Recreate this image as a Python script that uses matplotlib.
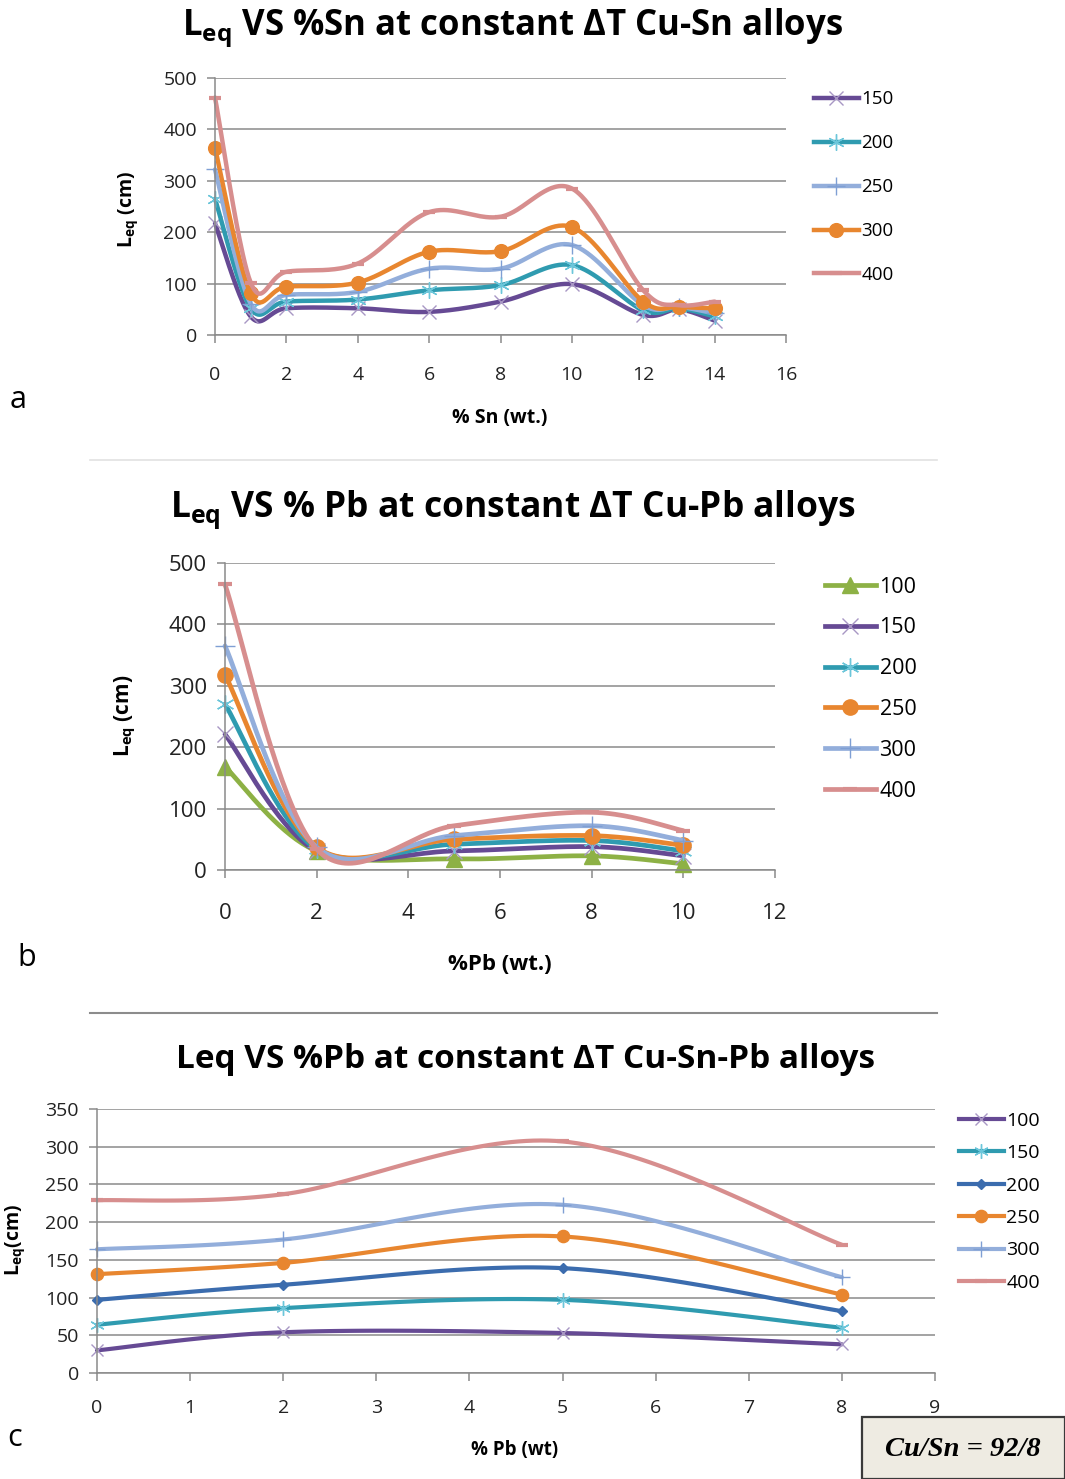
import numpy as np
import matplotlib
matplotlib.use("Agg")
import matplotlib.pyplot as plt
from matplotlib.lines import Line2D
from matplotlib.patches import Rectangle

plt.rcParams['font.family'] = ['Open Sans', 'DejaVu Sans']
plt.rcParams['mathtext.fontset'] = 'custom'
plt.rcParams['mathtext.bf'] = 'Open Sans:bold'
plt.rcParams['mathtext.rm'] = 'Open Sans'

# ---- panel a: Cu-Sn ----
sn_x = [0, 1, 2, 4, 6, 8, 10, 12, 13, 14]
sn_labels = ['150', '200', '250', '300', '400']
sn_150 = [217, 36, 52, 52, 45, 65, 99, 39, 50, 28]
sn_200 = [265, 52, 65, 69, 87, 97, 136, 48, 52, 36]
sn_250 = [322, 61, 78, 84, 129, 129, 175, 58, 55, 42]
sn_300 = [364, 81, 94, 102, 162, 163, 210, 65, 55, 52]
sn_400 = [462, 102, 123, 139, 239, 230, 285, 87, 58, 65]

# ---- panel b: Cu-Pb ----
pb_x = [0, 2, 5, 8, 10]
pb_labels = ['100', '150', '200', '250', '300', '400']
pb_100 = [168, 31, 18, 23, 10]
pb_150 = [221, 31, 31, 38, 23]
pb_200 = [270, 34, 42, 48, 31]
pb_250 = [318, 37, 50, 56, 40]
pb_300 = [365, 37, 56, 72, 48]
pb_400 = [465, 34, 72, 94, 64]

# ---- panel c: Cu-Sn-Pb ----
snpb_x = [0, 2, 5, 8]
snpb_labels = ['100', '150', '200', '250', '300', '400']
snpb_100 = [30, 54, 53, 38]
snpb_150 = [64, 86, 97, 60]
snpb_200 = [97, 117, 139, 82]
snpb_250 = [131, 146, 181, 104]
snpb_300 = [164, 177, 223, 127]
snpb_400 = [229, 237, 307, 170]

# colours / markers per temperature
sty = {
    '100g': dict(color='#8db145', marker='^', mc='#8db145', ms=12, mew=1),
    'purple': dict(color='#664a94', marker='x', mc='#a897c4', ms=11, mew=1),
    'teal': dict(color='#2f9bb0', marker=(6, 2, 0), mc='#6cc6da', ms=13, mew=1),
    'lblue': dict(color='#93aedb', marker='+', mc='#7f9fd4', ms=14, mew=1),
    'orange': dict(color='#e8862f', marker='o', mc='#e8862f', ms=11, mew=1),
    'pink': dict(color='#d78e8e', marker='_', mc='#d78e8e', ms=10, mew=3),
    'blue': dict(color='#3b6cae', marker='D', mc='#3b6cae', ms=7, mew=1),
}


def smooth(x, y, n=40):
    # excel style bezier smoothing
    pts = np.column_stack([x, y]).astype(float)
    m = len(pts)
    out = [pts[0]]
    t = np.linspace(0, 1, n)[1:, None]
    for i in range(m - 1):
        p0 = pts[max(i - 1, 0)]
        p1 = pts[i]
        p2 = pts[i + 1]
        p3 = pts[min(i + 2, m - 1)]
        c1 = p1 + (p2 - p0) / 6
        c2 = p2 - (p3 - p1) / 6
        seg = (1 - t)**3 * p1 + 3 * (1 - t)**2 * t * c1 + 3 * (1 - t) * t**2 * c2 + t**3 * p2
        out.extend(seg)
    return np.array(out)


W, H = 1065, 1479
fig = plt.figure(figsize=(W / 100, H / 100), dpi=100)


def px_axes(l, r, top, bottom):
    return fig.add_axes([l / W, 1 - bottom / H, (r - l) / W, (bottom - top) / H])


def draw(ax, x, series, keys, lw, msc=1.0):
    handles = []
    for y, k in zip(series, keys):
        s = sty[k]
        c = smooth(x, y)
        ax.plot(c[:, 0], c[:, 1], color=s['color'], lw=lw, solid_capstyle='round', clip_on=False)
        ax.plot(x, y, ls='none', marker=s['marker'], ms=s['ms'] * msc, color=s['mc'],
                mew=s['mew'], clip_on=False)
        handles.append(Line2D([], [], color=s['color'], lw=lw, marker=s['marker'],
                              ms=s['ms'] * msc, mfc=s['mc'], mec=s['mc'], mew=s['mew']))
    return handles


def style_axes(ax, xmax, ymax, ystep, fs, xpad):
    ax.set_xlim(0, xmax)
    ax.set_ylim(0, ymax)
    ax.set_xticks(np.arange(0, xmax + 0.1, 2 if xmax > 9 else 1))
    ax.set_yticks(np.arange(0, ymax + 1, ystep))
    ax.grid(axis='y', color='#8a8a8a', lw=1.1)
    ax.set_axisbelow(True)
    for sp in ['top', 'right']:
        ax.spines[sp].set_visible(False)
    for sp in ['left', 'bottom']:
        ax.spines[sp].set_color('#8a8a8a')
        ax.spines[sp].set_linewidth(1.1)
    ax.tick_params(axis='both', colors='#8a8a8a', labelcolor='#222222', labelsize=fs,
                   length=6, width=1.1, direction='out', pad=7)
    ax.tick_params(axis='x', pad=xpad)


# panel a
ax1 = px_axes(215, 786, 78, 335)
style_axes(ax1, 16, 500, 100, 14, 16)
h1 = draw(ax1, sn_x, [sn_150, sn_200, sn_250, sn_300, sn_400],
          ['purple', 'teal', 'lblue', 'orange', 'pink'], 3.2, 0.9)
ax1.legend(h1, sn_labels, loc='upper left', bbox_to_anchor=(806 / W, 1 - 83 / H),
           bbox_transform=fig.transFigure, frameon=False, fontsize=13.5, numpoints=1,
           handlelength=2.4, handletextpad=0.15, labelspacing=1.38, borderaxespad=0)
fig.text(513 / W, 1 - 28 / H, r'$\mathbf{L_{eq}}$ VS %Sn at constant ΔT Cu-Sn alloys',
         ha='center', va='center', fontsize=25, fontweight='bold')
fig.text(128 / W, 1 - 209 / H, r'$\mathbf{L_{eq}}$ (cm)', rotation=90, ha='center', va='center',
         fontsize=14, fontweight='bold')
fig.text(500 / W, 1 - 418 / H, '% Sn (wt.)', ha='center', va='center', fontsize=14, fontweight='bold')
fig.text(18 / W, 1 - 400 / H, 'a', ha='center', va='center', fontsize=22)
fig.add_artist(Line2D([90 / W, 937 / W], [1 - 460 / H] * 2, color='#e2e2e2', lw=1.2))

# panel b
ax2 = px_axes(225, 775, 563, 870)
style_axes(ax2, 12, 500, 100, 16, 18)
h2 = draw(ax2, pb_x, [pb_100, pb_150, pb_200, pb_250, pb_300, pb_400],
          ['100g', 'purple', 'teal', 'orange', 'lblue', 'pink'], 3.4, 1.0)
ax2.legend(h2, pb_labels, loc='upper left', bbox_to_anchor=(816 / W, 1 - 568 / H),
           bbox_transform=fig.transFigure, frameon=False, fontsize=15.5, numpoints=1,
           handlelength=2.4, handletextpad=0.15, labelspacing=0.92, borderaxespad=0)
fig.text(513 / W, 1 - 510 / H, r'$\mathbf{L_{eq}}$ VS % Pb at constant ΔT Cu-Pb alloys',
         ha='center', va='center', fontsize=25.5, fontweight='bold')
fig.text(125 / W, 1 - 716 / H, r'$\mathbf{L_{eq}}$ (cm)', rotation=90, ha='center', va='center',
         fontsize=15, fontweight='bold')
fig.text(500 / W, 1 - 965 / H, '%Pb (wt.)', ha='center', va='center', fontsize=16, fontweight='bold')
fig.text(27 / W, 1 - 958 / H, 'b', ha='center', va='center', fontsize=22)
fig.add_artist(Line2D([90 / W, 937 / W], [1 - 1013 / H] * 2, color='#8c8c8c', lw=1.5))

# panel c
ax3 = px_axes(97, 935, 1109, 1373)
style_axes(ax3, 9, 350, 50, 14, 13)
h3 = draw(ax3, snpb_x, [snpb_100, snpb_150, snpb_200, snpb_250, snpb_300, snpb_400],
          ['purple', 'teal', 'blue', 'orange', 'lblue', 'pink'], 3.0, 0.8)
ax3.legend(h3, snpb_labels, loc='upper left', bbox_to_anchor=(951 / W, 1 - 1104 / H),
           bbox_transform=fig.transFigure, frameon=False, fontsize=14, numpoints=1,
           handlelength=2.3, handletextpad=0.15, labelspacing=0.74, borderaxespad=0)
fig.text(525 / W, 1 - 1059 / H, 'Leq VS %Pb at constant ΔT Cu-Sn-Pb alloys',
         ha='center', va='center', fontsize=24, fontweight='bold')
fig.text(15 / W, 1 - 1240 / H, r'$\mathbf{L_{eq}}$(cm)', rotation=90, ha='center', va='center',
         fontsize=14, fontweight='bold')
fig.text(515 / W, 1 - 1450 / H, '% Pb (wt)', ha='center', va='center', fontsize=13.5, fontweight='bold')
fig.text(15 / W, 1 - 1438 / H, 'c', ha='center', va='center', fontsize=22)

fig.add_artist(Rectangle((862 / W, 0), (W - 862) / W, 62 / H, transform=fig.transFigure,
                         facecolor='#eeebe2', edgecolor='#3a3a3a', lw=1.6))
fig.text(963 / W, 1 - 1450 / H, 'Cu/Sn = 92/8', ha='center', va='center', fontsize=20.5,
         fontweight='bold', fontstyle='italic', family=['Liberation Serif'])

fig.savefig('out.png', dpi=100)
